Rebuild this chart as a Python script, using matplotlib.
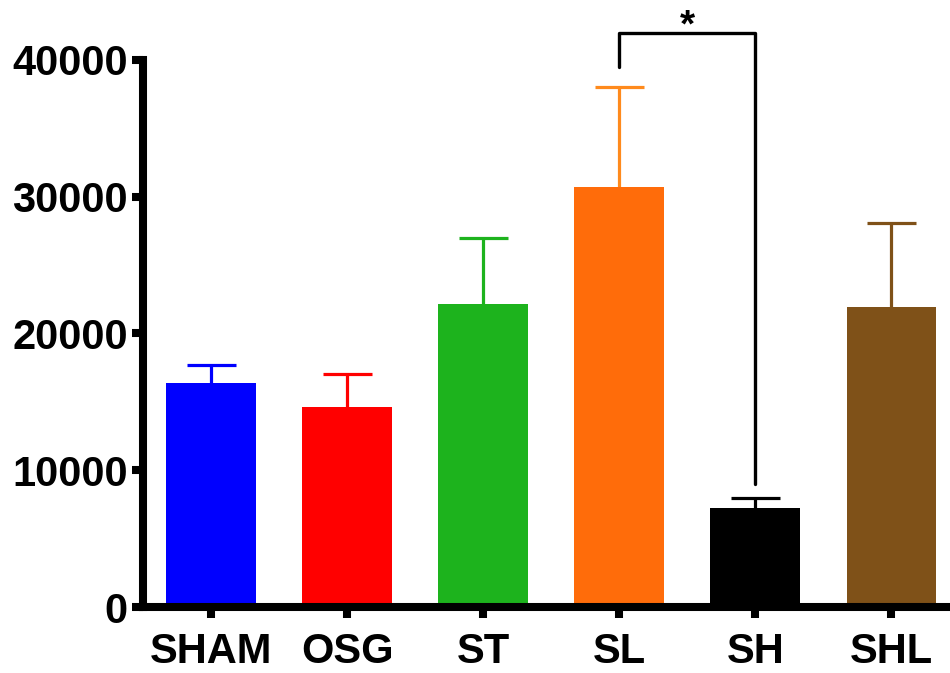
import matplotlib
matplotlib.use("Agg")
import matplotlib.pyplot as plt

# data
groups = ["SHAM", "OSG", "ST", "SL", "SH", "SHL"]
means = [16400, 14600, 22150, 30700, 7250, 21950]
errors = [1300, 2450, 4800, 7300, 750, 6100]
bar_colors = ["#0000FF", "#FF0000", "#1DB31D", "#FF6C0A", "#000000", "#7F5118"]
err_colors = ["#0000FF", "#FF0000", "#1DB31D", "#FF8A1C", "#000000", "#7F5118"]

plt.rcParams["font.family"] = ["Liberation Sans", "DejaVu Sans"]
plt.rcParams["font.weight"] = "bold"

fig = plt.figure(figsize=(9.5, 6.73), dpi=100)
ax = fig.add_axes([0.1505, 0.098, 0.8495, 0.813])

x = list(range(len(groups)))
tops = [m + e for m, e in zip(means, errors)]
ax.bar(x, means, width=0.66, color=bar_colors, zorder=2)
# upper-only error bars (drawn behind the bars)
ax.vlines(x, means, tops, colors=err_colors, lw=2.3, zorder=1)
ax.hlines(tops, [i - 0.18 for i in x], [i + 0.18 for i in x],
          colors=err_colors, lw=2.3, zorder=1)

# significance bracket SL vs SH
y_left = 39500
y_top = 42000
y_right = means[4] + errors[4] + 1000
ax.plot([3, 3, 4, 4], [y_left, y_top, y_top, y_right], color="black",
        lw=2.4, clip_on=False, solid_capstyle="round")
ax.text(3.5, 41700, "*", ha="center", va="baseline", fontsize=28,
        fontweight="bold")

ax.set_xlim(-0.5, 5.43)
ax.set_ylim(0, 40000)
ax.set_yticks([0, 10000, 20000, 30000, 40000])
ax.set_xticks(x)
ax.set_xticklabels(groups)

for s in ["top", "right"]:
    ax.spines[s].set_visible(False)
for s in ["left", "bottom"]:
    ax.spines[s].set_linewidth(5.8)
ax.tick_params(axis="both", width=5.8, length=8, labelsize=30, pad=3)
ax.tick_params(axis="x", pad=10)
for lab in ax.get_xticklabels() + ax.get_yticklabels():
    lab.set_fontweight("bold")

fig.savefig("out.png", dpi=100)
